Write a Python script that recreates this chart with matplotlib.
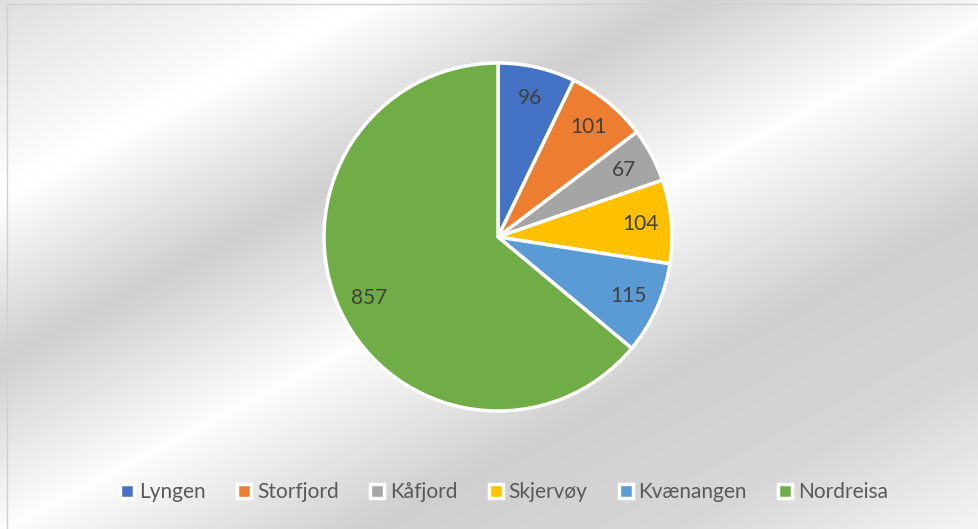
import numpy as np
import matplotlib.pyplot as plt
from matplotlib.lines import Line2D
from matplotlib.patches import Rectangle

kommuner = ["Lyngen", "Storfjord", "Kåfjord", "Skjervøy", "Kvænangen", "Nordreisa"]
antall = [96, 101, 67, 104, 115, 857]
farger = ["#4472C4", "#ED7D31", "#A5A5A5", "#FFC000", "#5B9BD5", "#70AD47"]

plt.rcParams['font.family'] = ['Lato', 'DejaVu Sans']

W, H = 979, 529
fig = plt.figure(figsize=(W / 100, H / 100), dpi=100)

# silver gradient background with diagonal bands
bg = fig.add_axes([0, 0, 1, 1], zorder=-1)
yy, xx = np.mgrid[0:H, 0:W]
t = yy + 0.52 * xx
stops_t = [0, 195, 360, 530, 720, 880, 1040]
stops_v = [0.87, 1.0, 0.81, 0.99, 0.81, 0.84, 0.96]
shade = np.interp(t, stops_t, stops_v)
bg.imshow(shade, cmap='gray', vmin=0, vmax=1, aspect='auto', interpolation='bilinear')
bg.axis('off')
fig.patches.append(Rectangle((7 / W, -0.1), 2, (1 - 4 / H) + 0.1, transform=fig.transFigure,
                             fill=False, edgecolor='#d0d0d0', linewidth=1, zorder=0))

# pie
cx, cy, r = 498, 237, 174
pad = 1.05
ax = fig.add_axes([(cx - r * pad) / W, (H - cy - r * pad) / H, 2 * r * pad / W, 2 * r * pad / H])
ax.set_facecolor('none')
total = sum(antall)
wedges, _, autotexts = ax.pie(antall, colors=farger, startangle=90, counterclock=False,
                              radius=1, autopct=lambda p: f"{round(p * total / 100)}",
                              pctdistance=0.82,
                              wedgeprops=dict(edgecolor='white', linewidth=2.5),
                              textprops=dict(color='#404040', fontsize=15))
ax.set_xlim(-pad, pad)
ax.set_ylim(-pad, pad)

handles = [Line2D([], [], marker='s', linestyle='none', markersize=9.5, markerfacecolor=c,
                  markeredgecolor='white', markeredgewidth=2.5) for c in farger]
fig.legend(handles, kommuner, loc='center', bbox_to_anchor=(503 / W, 1 - 492 / H), ncol=6,
           frameon=False, fontsize=15, labelcolor='#595959', handlelength=0.8,
           handletextpad=0.2, columnspacing=1.45)

fig.savefig('out.png', dpi=100)
